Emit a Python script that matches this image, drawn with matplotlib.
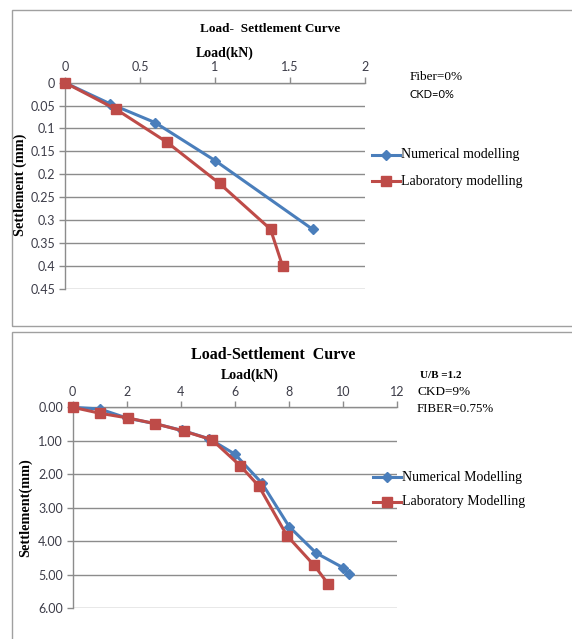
import matplotlib
matplotlib.use("Agg")
import matplotlib.pyplot as plt
from matplotlib.patches import Rectangle

# ---- Data: top chart (Fiber=0%, CKD=0%) ----
top_num_load = [0, 0.30, 0.60, 1.00, 1.65]
top_num_settle = [0, 0.046, 0.087, 0.17, 0.32]
top_lab_load = [0, 0.34, 0.68, 1.03, 1.37, 1.45]
top_lab_settle = [0, 0.058, 0.13, 0.22, 0.32, 0.40]
top_xticks = [0, 0.5, 1, 1.5, 2]
top_xticklabels = ["0", "0.5", "1", "1.5", "2"]
top_yticks = [0, 0.05, 0.1, 0.15, 0.2, 0.25, 0.3, 0.35, 0.4, 0.45]
top_yticklabels = ["0", "0.05", "0.1", "0.15", "0.2", "0.25", "0.3", "0.35", "0.4", "0.45"]

# ---- Data: bottom chart (U/B=1.2, CKD=9%, FIBER=0.75%) ----
bot_num_load = [0, 1.0, 2.0, 3.05, 4.05, 5.05, 6.0, 7.0, 8.0, 9.0, 10.0, 10.2]
bot_num_settle = [0, 0.05, 0.32, 0.49, 0.69, 0.94, 1.40, 2.27, 3.56, 4.35, 4.79, 4.98]
bot_lab_load = [0, 1.02, 2.05, 3.06, 4.1, 5.15, 6.2, 6.88, 7.92, 8.93, 9.45]
bot_lab_settle = [0, 0.18, 0.32, 0.49, 0.71, 0.97, 1.75, 2.35, 3.83, 4.72, 5.28]
bot_xticks = [0, 2, 4, 6, 8, 10, 12]
bot_xticklabels = ["0", "2", "4", "6", "8", "10", "12"]
bot_yticks = [0, 1, 2, 3, 4, 5, 6]
bot_yticklabels = ["0.00", "1.00", "2.00", "3.00", "4.00", "5.00", "6.00"]

BLUE = "#4a7ebb"
RED = "#be4b48"
GRID = "#8c8c8c"
TICKC = "#3c3c48"
SERIF = ["Liberation Serif", "DejaVu Serif"]
SANS = ["Lato", "DejaVu Sans"]

W, H = 572, 639
fig = plt.figure(figsize=(W / 100, H / 100), dpi=100)
fig.patch.set_facecolor("white")


def fx(px):
    return px / W


def fy(py):
    return 1 - py / H


# panel borders
fig.patches.append(Rectangle((fx(11.5), fy(326)), fx(600), fy(9.5) - fy(326),
                             transform=fig.transFigure, fill=False,
                             edgecolor="#a0a0a0", lw=1.0))
fig.patches.append(Rectangle((fx(12), fy(700)), fx(600), fy(332.5) - fy(700),
                             transform=fig.transFigure, fill=False,
                             edgecolor="#a0a0a0", lw=1.0))


def make_axes(l, r, t, b):
    return fig.add_axes([fx(l), fy(b), fx(r) - fx(l), fy(t) - fy(b)])


def style(ax, xt, xtl, yt, ytl, xlim, ylim, fs):
    ax.set_xlim(*xlim)
    ax.set_ylim(ylim[1], ylim[0])
    ax.xaxis.tick_top()
    ax.set_xticks(xt)
    ax.set_xticklabels(xtl)
    ax.set_yticks(yt)
    ax.set_yticklabels(ytl)
    for s in ("right", "bottom"):
        ax.spines[s].set_visible(False)
    for s in ("left", "top"):
        ax.spines[s].set_color(GRID)
        ax.spines[s].set_linewidth(1.0)
    ax.tick_params(axis="both", colors=GRID, labelcolor=TICKC, length=4,
                   width=1.0, direction="out", labelsize=fs, pad=3)
    for lab in ax.get_xticklabels() + ax.get_yticklabels():
        lab.set_family(SANS)
    ax.yaxis.grid(True, color=GRID, lw=1.0)
    ax.set_axisbelow(True)
    ax.set_facecolor("none")


# ---- top chart ----
ax1 = make_axes(65, 365, 82.7, 288.7)
style(ax1, top_xticks, top_xticklabels, top_yticks, top_yticklabels,
      (0, 2), (0, 0.45), 9)
ax1.plot(top_num_load, top_num_settle, color=BLUE, lw=2.2, marker="D",
         markersize=5, clip_on=False, zorder=3)
ax1.plot(top_lab_load, top_lab_settle, color=RED, lw=2.2, marker="s",
         markersize=6.5, clip_on=False, zorder=4)

fig.text(fx(270), fy(29), "Load-  Settlement Curve", ha="center", va="center",
         family=SERIF, fontweight="bold", fontsize=9.5)
fig.text(fx(225), fy(53), "Load(kN)", ha="center", va="center",
         family=SERIF, fontweight="bold", fontsize=10)
fig.text(fx(20), fy(185), "Settlement (mm)", ha="center", va="center",
         rotation=90, family=SERIF, fontweight="bold", fontsize=10.3)
fig.text(fx(410), fy(77), "Fiber=0%", ha="left", va="center",
         family=SERIF, fontsize=9.5)
fig.text(fx(410), fy(95), "CKD=0%", ha="left", va="center",
         family=SANS, fontsize=8)

# top legend
for yy, col, mk, ms, lab in [(155, BLUE, "D", 5, "Numerical modelling"),
                             (181, RED, "s", 6.5, "Laboratory modelling")]:
    fig.lines.append(plt.Line2D([fx(372), fx(400)], [fy(yy), fy(yy)],
                                transform=fig.transFigure, color=col, lw=2.2))
    fig.lines.append(plt.Line2D([fx(386)], [fy(yy)], transform=fig.transFigure,
                                color=col, marker=mk, markersize=ms))
    fig.text(fx(401), fy(yy), lab, ha="left", va="center", family=SERIF,
             fontsize=10)

# ---- bottom chart ----
ax2 = make_axes(72.7, 397.3, 407.3, 608.3)
style(ax2, bot_xticks, bot_xticklabels, bot_yticks, bot_yticklabels,
      (0, 12), (0, 6), 9)
ax2.plot(bot_num_load, bot_num_settle, color=BLUE, lw=2.2, marker="D",
         markersize=5, clip_on=False, zorder=3)
ax2.plot(bot_lab_load, bot_lab_settle, color=RED, lw=2.2, marker="s",
         markersize=7, clip_on=False, zorder=4)

fig.text(fx(273), fy(355), "Load-Settlement  Curve", ha="center", va="center",
         family=SERIF, fontweight="bold", fontsize=11.5)
fig.text(fx(250), fy(375), "Load(kN)", ha="center", va="center",
         family=SERIF, fontweight="bold", fontsize=10)
fig.text(fx(25), fy(508), "Settlement(mm)", ha="center", va="center",
         rotation=90, family=SERIF, fontweight="bold", fontsize=10.3)
fig.text(fx(420), fy(375), "U/B =1.2", ha="left", va="center",
         family=SERIF, fontweight="bold", fontsize=8)
fig.text(fx(417), fy(392), "CKD=9%", ha="left", va="center",
         family=SERIF, fontsize=9.5)
fig.text(fx(417), fy(409), "FIBER=0.75%", ha="left", va="center",
         family=SERIF, fontsize=9.3)

for yy, col, mk, ms, lab in [(477, BLUE, "D", 5, "Numerical Modelling"),
                             (502, RED, "s", 7, "Laboratory Modelling")]:
    fig.lines.append(plt.Line2D([fx(373), fx(401)], [fy(yy), fy(yy)],
                                transform=fig.transFigure, color=col, lw=2.2))
    fig.lines.append(plt.Line2D([fx(387)], [fy(yy)], transform=fig.transFigure,
                                color=col, marker=mk, markersize=ms))
    fig.text(fx(402), fy(yy), lab, ha="left", va="center", family=SERIF,
             fontsize=10)

fig.savefig("out.png", dpi=100)
